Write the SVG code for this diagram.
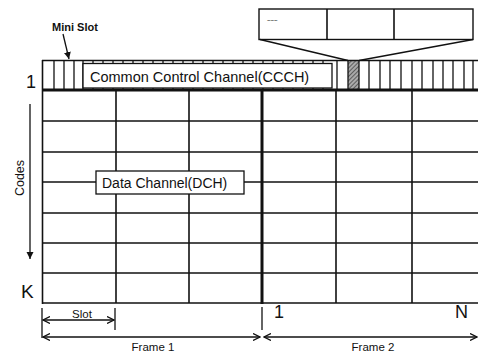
<svg xmlns="http://www.w3.org/2000/svg" width="478" height="354" viewBox="0 0 478 354">
<style>
text{font-family:"Liberation Sans",Arial,sans-serif;fill:#111}
.g{stroke:#111;stroke-width:1.6;fill:none}
.t{stroke:#111;stroke-width:3;fill:none}
.ms{stroke:#111;stroke-width:1.3}
.lbl{fill:#fff;stroke:#111;stroke-width:1.3}
.ar{stroke:#111;stroke-width:1.3;fill:none}
</style>
<defs>
<pattern id="hatch" width="3" height="3" patternUnits="userSpaceOnUse" patternTransform="rotate(45)">
<rect width="3" height="3" fill="#aaa"/>
<line x1="0" y1="0" x2="0" y2="3" stroke="#333" stroke-width="1.3"/>
</pattern>
<marker id="ah" markerWidth="8" markerHeight="8" refX="7" refY="4" orient="auto-start-reverse" markerUnits="userSpaceOnUse">
<path d="M0,0.5 L7,4 L0,7.5" fill="none" stroke="#111" stroke-width="1.3"/>
</marker>
<marker id="af" markerWidth="8" markerHeight="8" refX="7" refY="4" orient="auto" markerUnits="userSpaceOnUse">
<path d="M0,0.5 L7,4 L0,7.5 Z" fill="#111"/>
</marker>
</defs>

<g id="grid">
<rect x="348" y="61" width="11" height="29" fill="url(#hatch)"/>
<line class="g" x1="42" y1="60.5" x2="478" y2="60.5"/>
<g id="miniSlots">
<line class="ms" x1="54" y1="61" x2="54" y2="90"/>
<line class="ms" x1="64" y1="61" x2="64" y2="90"/>
<line class="ms" x1="74" y1="61" x2="74" y2="90"/>
<line class="ms" x1="83" y1="61" x2="83" y2="90"/>
<line class="ms" x1="93" y1="61" x2="93" y2="90"/>
<line class="ms" x1="103" y1="61" x2="103" y2="90"/>
<line class="ms" x1="113" y1="61" x2="113" y2="90"/>
<line class="ms" x1="123" y1="61" x2="123" y2="90"/>
<line class="ms" x1="133" y1="61" x2="133" y2="90"/>
<line class="ms" x1="143" y1="61" x2="143" y2="90"/>
<line class="ms" x1="153" y1="61" x2="153" y2="90"/>
<line class="ms" x1="163" y1="61" x2="163" y2="90"/>
<line class="ms" x1="173" y1="61" x2="173" y2="90"/>
<line class="ms" x1="183" y1="61" x2="183" y2="90"/>
<line class="ms" x1="193" y1="61" x2="193" y2="90"/>
<line class="ms" x1="203" y1="61" x2="203" y2="90"/>
<line class="ms" x1="213" y1="61" x2="213" y2="90"/>
<line class="ms" x1="223" y1="61" x2="223" y2="90"/>
<line class="ms" x1="233" y1="61" x2="233" y2="90"/>
<line class="ms" x1="243" y1="61" x2="243" y2="90"/>
<line class="ms" x1="253" y1="61" x2="253" y2="90"/>
<line class="ms" x1="263" y1="61" x2="263" y2="90"/>
<line class="ms" x1="273" y1="61" x2="273" y2="90"/>
<line class="ms" x1="283" y1="61" x2="283" y2="90"/>
<line class="ms" x1="293" y1="61" x2="293" y2="90"/>
<line class="ms" x1="303" y1="61" x2="303" y2="90"/>
<line class="ms" x1="313" y1="61" x2="313" y2="90"/>
<line class="ms" x1="323" y1="61" x2="323" y2="90"/>
<line class="ms" x1="337" y1="61" x2="337" y2="90"/>
<line class="ms" x1="348" y1="61" x2="348" y2="90"/>
<line class="ms" x1="359" y1="61" x2="359" y2="90"/>
<line class="ms" x1="369" y1="61" x2="369" y2="90"/>
<line class="ms" x1="380" y1="61" x2="380" y2="90"/>
<line class="ms" x1="390" y1="61" x2="390" y2="90"/>
<line class="ms" x1="401" y1="61" x2="401" y2="90"/>
<line class="ms" x1="412" y1="61" x2="412" y2="90"/>
<line class="ms" x1="422" y1="61" x2="422" y2="90"/>
<line class="ms" x1="433" y1="61" x2="433" y2="90"/>
<line class="ms" x1="443" y1="61" x2="443" y2="90"/>
<line class="ms" x1="453" y1="61" x2="453" y2="90"/>
<line class="ms" x1="464" y1="61" x2="464" y2="90"/>
<line class="ms" x1="473" y1="61" x2="473" y2="90"/>
</g>
<line class="g" x1="42" y1="121" x2="478" y2="121"/>
<line class="g" x1="42" y1="152" x2="478" y2="152"/>
<line class="g" x1="42" y1="182" x2="478" y2="182"/>
<line class="g" x1="42" y1="213" x2="478" y2="213"/>
<line class="g" x1="42" y1="243" x2="478" y2="243"/>
<line class="g" x1="42" y1="273" x2="478" y2="273"/>
<line class="g" x1="42" y1="303" x2="478" y2="303"/>
<line class="g" x1="116" y1="90" x2="116" y2="303"/>
<line class="g" x1="189" y1="90" x2="189" y2="303"/>
<line class="g" x1="336" y1="90" x2="336" y2="303"/>
<line class="g" x1="412" y1="90" x2="412" y2="303"/>
<line class="t" x1="262" y1="90" x2="262" y2="304"/>
<line class="t" x1="42" y1="90" x2="478" y2="90"/>
<line class="g" x1="42.5" y1="60" x2="42.5" y2="304" stroke-width="2"/>
</g>

<g id="ccch">
<rect class="lbl" x="83" y="63.5" width="249" height="24.5"/>
<text x="90" y="82" font-size="14.5">Common Control Channel(CCCH)</text>
</g>

<g id="dch">
<rect class="lbl" x="96" y="171" width="148" height="23"/>
<text x="102" y="188" font-size="14">Data Channel(DCH)</text>
</g>

<g id="zoomBox">
<rect x="259" y="9" width="214" height="30.5" fill="#fff" stroke="#111" stroke-width="1.4"/>
<line class="g" x1="327" y1="9" x2="327" y2="39.5"/>
<line class="g" x1="394" y1="9" x2="394" y2="39.5"/>
<text x="267" y="22" font-size="6" fill="#555">~~~</text>
</g>

<g id="connectors">
<line class="ar" x1="260" y1="39.5" x2="348" y2="60.5"/>
<line class="ar" x1="473" y1="39.5" x2="359" y2="60.5"/>
<line class="ar" x1="63" y1="34" x2="69" y2="59" marker-end="url(#af)"/>
<line class="ar" x1="30" y1="104" x2="30" y2="259" marker-end="url(#af)"/>
<line class="ar" x1="42" y1="308" x2="42" y2="338"/>
<line class="ar" x1="115" y1="308" x2="115" y2="330"/>
<line class="ar" x1="262" y1="307" x2="262" y2="330"/>
<line class="ar" x1="43" y1="320" x2="114" y2="320" marker-start="url(#ah)" marker-end="url(#ah)"/>
<line class="ar" x1="43" y1="337" x2="260" y2="337" marker-start="url(#ah)" marker-end="url(#ah)"/>
<line class="ar" x1="264" y1="337" x2="477" y2="337" marker-start="url(#ah)" marker-end="url(#ah)"/>
</g>

<g id="labels">
<text x="52" y="31" font-size="11" font-weight="bold">Mini Slot</text>
<text x="26" y="88" font-size="18">1</text>
<text x="21" y="298" font-size="19">K</text>
<text transform="translate(24,178) rotate(-90)" text-anchor="middle" font-size="12.5">Codes</text>
<text x="82" y="318" font-size="11.5" text-anchor="middle">Slot</text>
<text x="153" y="351" font-size="11.5" text-anchor="middle">Frame 1</text>
<text x="373" y="351" font-size="11.5" text-anchor="middle">Frame 2</text>
<text x="274" y="318" font-size="18">1</text>
<text x="455" y="318" font-size="18">N</text>
</g>
</svg>
